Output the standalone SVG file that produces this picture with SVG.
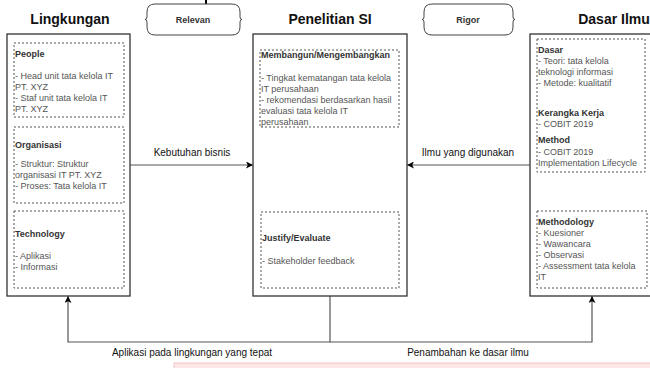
<svg xmlns="http://www.w3.org/2000/svg" width="650" height="368" viewBox="0 0 650 368">
<defs>
<marker id="arr" viewBox="0 0 10 10" refX="10" refY="5" markerWidth="7" markerHeight="7" orient="auto" markerUnits="userSpaceOnUse">
<path d="M0,0 L10,5 L0,10 L2.5,5 Z" fill="#000"/>
</marker>
<style>
.title{font-family:"Liberation Sans",Arial,sans-serif;font-size:14px;font-weight:bold;fill:#111;text-anchor:middle}
.outer{fill:#fff;stroke:#333;stroke-width:1.3}
.inner{fill:none;stroke:#555;stroke-width:1;stroke-dasharray:2 2}
.t{font-family:"Liberation Sans",Arial,sans-serif;font-size:9px;fill:#555}
.h{font-family:"Liberation Sans",Arial,sans-serif;font-size:9px;font-weight:bold;fill:#333}
.lbl{font-family:"Liberation Sans",Arial,sans-serif;font-size:10px;fill:#111;text-anchor:middle}
.tag{font-family:"Liberation Sans",Arial,sans-serif;font-size:9px;font-weight:bold;fill:#333;text-anchor:middle}
.conn{fill:none;stroke:#555;stroke-width:1.2}
.shape{fill:#fff;stroke:#444;stroke-width:1}
</style>
</defs>
<rect width="650" height="368" fill="#fff"/>

<g id="tags">
<g id="relevan">
<line x1="206" y1="0" x2="206" y2="4" stroke="#000" stroke-width="2"/>
<path class="shape" d="M155,4 L232,4 Q240,4 240,12 L240,17 Q240,19.5 242,19.5 Q240,19.5 240,22 L240,27 Q240,35 232,35 L155,35 Q147,35 147,27 L147,22 Q147,19.5 145,19.5 Q147,19.5 147,17 L147,12 Q147,4 155,4 Z"/>
<text class="tag" x="193" y="23">Relevan</text>
</g>
<g id="rigor">
<path class="shape" d="M432,4 L505,4 Q513,4 513,12 L513,17 Q513,19.5 515,19.5 Q513,19.5 513,22 L513,27 Q513,35 505,35 L432,35 Q424,35 424,27 L424,22 Q424,19.5 422,19.5 Q424,19.5 424,17 L424,12 Q424,4 432,4 Z"/>
<text class="tag" x="468" y="23">Rigor</text>
</g>
</g>

<g id="connectors">
<line class="conn" x1="130" y1="165" x2="253" y2="165" marker-end="url(#arr)"/>
<line class="conn" x1="530" y1="165" x2="407" y2="165" marker-end="url(#arr)"/>
<line class="conn" x1="303" y1="127" x2="303" y2="212" marker-end="url(#arr)"/>
<line class="conn" x1="355" y1="212" x2="355" y2="127" marker-end="url(#arr)"/>
<polyline class="conn" points="330,296 330,342 68,342 68,296" marker-end="url(#arr)"/>
<polyline class="conn" points="330,342 592,342 592,296" marker-end="url(#arr)"/>
<text class="lbl" x="192" y="156">Kebutuhan bisnis</text>
<text class="lbl" x="468" y="156">Ilmu yang digunakan</text>
<text class="lbl" x="192" y="356">Aplikasi pada lingkungan yang tepat</text>
<text class="lbl" x="468" y="356">Penambahan ke dasar ilmu</text>
</g>

<g id="lingkungan">
<text class="title" x="70" y="24">Lingkungan</text>
<rect class="outer" x="7" y="34" width="123" height="262"/>
<g id="people">
<rect class="inner" x="14" y="43" width="110" height="74"/>
<text class="h" x="15" y="57">People</text>
<text class="t" x="15" y="79">- Head unit tata kelola IT</text>
<text class="t" x="15" y="90">PT. XYZ</text>
<text class="t" x="15" y="101">- Staf unit tata kelola IT</text>
<text class="t" x="15" y="112">PT. XYZ</text>
</g>
<g id="organisasi">
<rect class="inner" x="14" y="127" width="110" height="76"/>
<text class="h" x="15" y="148">Organisasi</text>
<text class="t" x="15" y="167">- Struktur: Struktur</text>
<text class="t" x="15" y="178">organisasi IT PT. XYZ</text>
<text class="t" x="15" y="189">- Proses: Tata kelola IT</text>
</g>
<g id="technology">
<rect class="inner" x="14" y="211" width="110" height="77"/>
<text class="h" x="15" y="237">Technology</text>
<text class="t" x="15" y="259">- Aplikasi</text>
<text class="t" x="15" y="270">- Informasi</text>
</g>
</g>

<g id="penelitian">
<text class="title" x="330" y="24">Penelitian SI</text>
<rect class="outer" x="253" y="34" width="154" height="262"/>
<g id="membangun">
<rect class="inner" x="260" y="50" width="139" height="77"/>
<text class="h" x="261" y="58">Membangun/Mengembangkan</text>
<text class="t" x="261" y="81">- Tingkat kematangan tata kelola</text>
<text class="t" x="261" y="92">IT perusahaan</text>
<text class="t" x="261" y="103">- rekomendasi berdasarkan hasil</text>
<text class="t" x="261" y="114">evaluasi tata kelola IT</text>
<text class="t" x="261" y="125">perusahaan</text>
</g>
<g id="justify">
<rect class="inner" x="261" y="212" width="138" height="76"/>
<text class="h" x="262" y="241">Justify/Evaluate</text>
<text class="t" x="262" y="264">- Stakeholder feedback</text>
</g>
</g>

<g id="dasar-ilmu">
<text class="title" x="614" y="24">Dasar Ilmu</text>
<rect class="outer" x="530" y="34" width="125" height="262"/>
<g id="dasar">
<rect class="inner" x="537" y="39" width="108" height="133"/>
<text class="h" x="538" y="53">Dasar</text>
<text class="t" x="538" y="64">- Teori: tata kelola</text>
<text class="t" x="538" y="75">teknologi informasi</text>
<text class="t" x="538" y="86">- Metode: kualitatif</text>
<text class="h" x="538" y="116">Kerangka Kerja</text>
<text class="t" x="538" y="127">- COBIT 2019</text>
<text class="h" x="538" y="143">Method</text>
<text class="t" x="538" y="155">- COBIT 2019</text>
<text class="t" x="538" y="166">Implementation Lifecycle</text>
</g>
<g id="methodology">
<rect class="inner" x="537" y="211" width="110" height="77"/>
<text class="h" x="538" y="225">Methodology</text>
<text class="t" x="538" y="236">- Kuesioner</text>
<text class="t" x="538" y="247">- Wawancara</text>
<text class="t" x="538" y="258">- Observasi</text>
<text class="t" x="538" y="269">- Assessment tata kelola</text>
<text class="t" x="538" y="280">IT</text>
</g>
</g>

<rect x="174" y="363" width="480" height="6" fill="#fde6e6" stroke="#f4c4c4" stroke-width="1"/>
</svg>
